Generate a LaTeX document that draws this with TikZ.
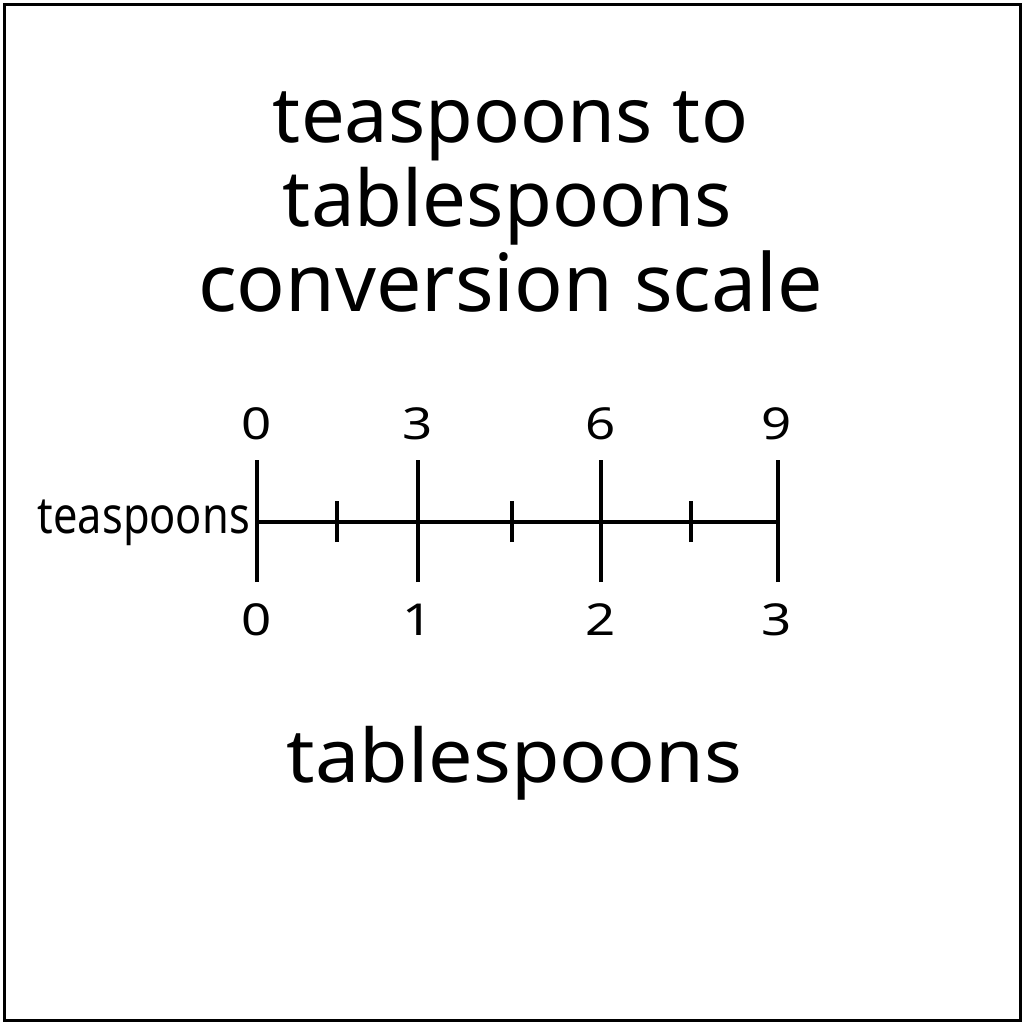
\documentclass[tikz,border=0pt]{standalone}
\usepackage{fontspec}
\usepackage{graphicx}
\setmainfont{Noto Sans}
\newcommand\fitw[3]{\resizebox{#1pt}{\height}{\fontsize{#2}{#2}\selectfont #3}}
\newcommand\digit[1]{\scalebox{1.2}[1]{\fontsize{44}{44}\selectfont #1}}
\tikzset{
  txt/.style={inner sep=0pt, outer sep=0pt, anchor=base},
  scaleline/.style={line width=4.5pt, black},
  major/.style={line width=4.5pt, black},
  minor/.style={line width=4pt, black},
  frame/.style={line width=3pt, black}
}
\begin{document}
\begin{tikzpicture}[x=1pt,y=-1pt]
\useasboundingbox (0,0) rectangle (1024,1024);
\draw[frame] (4.5,4.5) rectangle (1020.5,1020.5);
% title
\node[txt] (t1) at (510.5,143) {\fitw{475}{77}{teaspoons to}};
\node[txt] (t2) at (507.5,227) {\fitw{449}{78}{tablespoons}};
\node[txt] (t3) at (510.5,311) {\fitw{625}{80}{conversion scale}};
% scale coordinates
\coordinate (a0) at (257,522);
\coordinate (a1) at (418,522);
\coordinate (a2) at (601,522);
\coordinate (a3) at (778,522);
\draw[scaleline] (a0) -- (a3);
\foreach \n in {a0,a1,a2,a3}{
  \draw[major] ([yshift=-60pt]\n) -- ([yshift=62pt]\n);
}
\coordinate (m1) at (337,522);
\coordinate (m2) at (512,522);
\coordinate (m3) at (691,522);
\foreach \n in {m1,m2,m3}{
  \draw[minor] ([yshift=-20pt]\n) -- ([yshift=21pt]\n);
}
% top labels
\node[txt] (u0) at (257,439) {\digit{0}};
\node[txt] (u1) at (418,439) {\digit{3}};
\node[txt] (u2) at (601,439) {\digit{6}};
\node[txt] (u3) at (777,439) {\digit{9}};
% bottom labels
\node[txt] (b0) at (257,635) {\digit{0}};
\node[txt] (b1) at (418,635) {\digit{1}};
\node[txt] (b2) at (601,635) {\digit{2}};
\node[txt] (b3) at (777,635) {\digit{3}};
% left label
\node[inner sep=0pt, anchor=base east] (lab) at (250,533) {\fitw{212}{51}{teaspoons}};
% bottom title
\node[txt] (bt) at (514.5,782) {\fitw{455}{74}{tablespoons}};
\end{tikzpicture}
\end{document}
